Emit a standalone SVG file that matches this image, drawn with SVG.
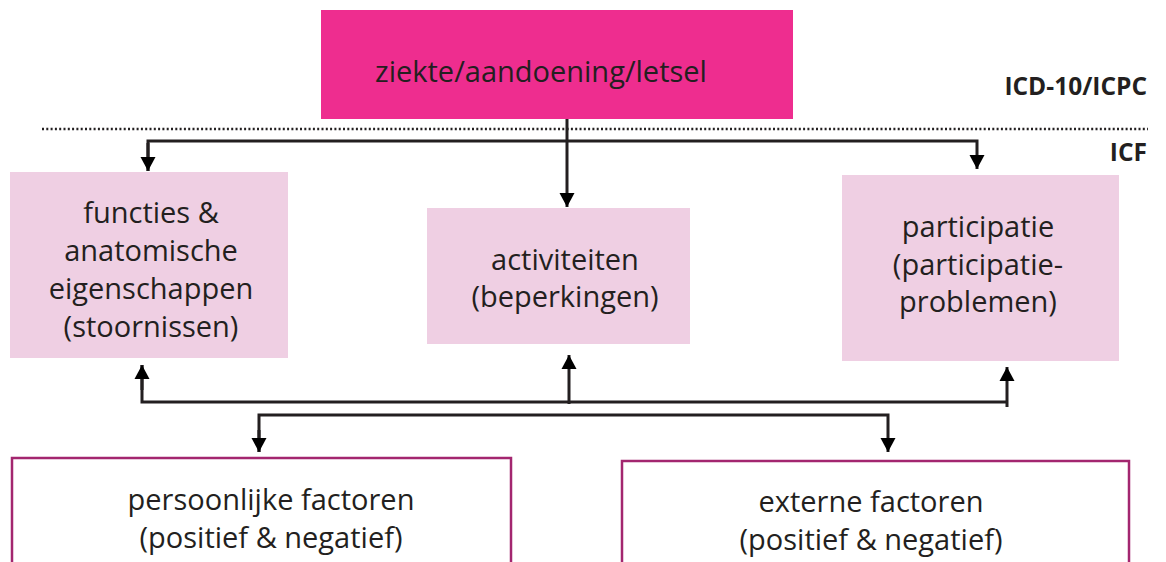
<svg xmlns="http://www.w3.org/2000/svg" width="1166" height="562" viewBox="0 0 1166 562">
<defs>
<style>
.t{font-family:"Open Sans","Liberation Sans",sans-serif;font-size:29px;fill:#231f20;text-anchor:middle}
.lbl{font-family:"Open Sans","Liberation Sans",sans-serif;font-size:24.5px;font-weight:bold;fill:#231f20;text-anchor:end}
.light{fill:#efcfe3}
.outline{fill:#fff;stroke:#a3266f;stroke-width:2.5}
.c{fill:none;stroke:#231f20;stroke-width:3}
</style>
<marker id="ah" markerUnits="userSpaceOnUse" markerWidth="17" markerHeight="17" viewBox="0 0 17 17" refX="14" refY="8.5" orient="auto">
<path d="M0,1 L14,8.5 L0,16 Z" fill="#000"/>
</marker>
</defs>
<rect width="1166" height="562" fill="#fff"/>
<line x1="42" y1="129" x2="1148" y2="129" stroke="#231f20" stroke-width="2.4" stroke-dasharray="2 2.3"/>
<text class="lbl" x="1147" y="95">ICD-10/ICPC</text>
<text class="lbl" x="1147" y="161">ICF</text>
<g id="ziekte">
<rect x="321" y="10" width="472" height="109" fill="#ee2d8f"/>
<text class="t" x="541" y="82">ziekte/aandoening/letsel</text>
</g>
<g id="functies">
<rect class="light" x="10" y="172" width="278" height="186"/>
<text class="t" x="151" y="223">functies &amp;</text>
<text class="t" x="151" y="261">anatomische</text>
<text class="t" x="151" y="299">eigenschappen</text>
<text class="t" x="151" y="337">(stoornissen)</text>
</g>
<g id="activiteiten">
<rect class="light" x="427" y="208" width="263" height="136"/>
<text class="t" x="565" y="270">activiteiten</text>
<text class="t" x="565" y="307">(beperkingen)</text>
</g>
<g id="participatie">
<rect class="light" x="842" y="175" width="277" height="186"/>
<text class="t" x="978" y="237">participatie</text>
<text class="t" x="978" y="275">(participatie-</text>
<text class="t" x="978" y="312">problemen)</text>
</g>
<g id="persoonlijk">
<rect class="outline" x="12" y="458" width="499" height="110"/>
<text class="t" x="271" y="510">persoonlijke factoren</text>
<text class="t" x="271" y="548">(positief &amp; negatief)</text>
</g>
<g id="extern">
<rect class="outline" x="622" y="461" width="507" height="110"/>
<text class="t" x="871" y="512">externe factoren</text>
<text class="t" x="871" y="550">(positief &amp; negatief)</text>
</g>
<g id="connectors">
<line class="c" x1="567" y1="119" x2="567" y2="207" marker-end="url(#ah)"/>
<polyline class="c" points="148,171 148,141 977,141 977,169" marker-end="url(#ah)"/>
<line class="c" x1="148" y1="143" x2="148" y2="171" marker-end="url(#ah)"/>
<polyline class="c" points="142,365 142,402 1008,402"/>
<line class="c" x1="142" y1="390" x2="142" y2="365" marker-end="url(#ah)"/>
<line class="c" x1="569" y1="404" x2="569" y2="355" marker-end="url(#ah)"/>
<line class="c" x1="1007" y1="407" x2="1007" y2="367" marker-end="url(#ah)"/>
<polyline class="c" points="259,452 259,415 888,415 888,452" marker-end="url(#ah)"/>
<line class="c" x1="259" y1="430" x2="259" y2="452" marker-end="url(#ah)"/>
</g>
</svg>
